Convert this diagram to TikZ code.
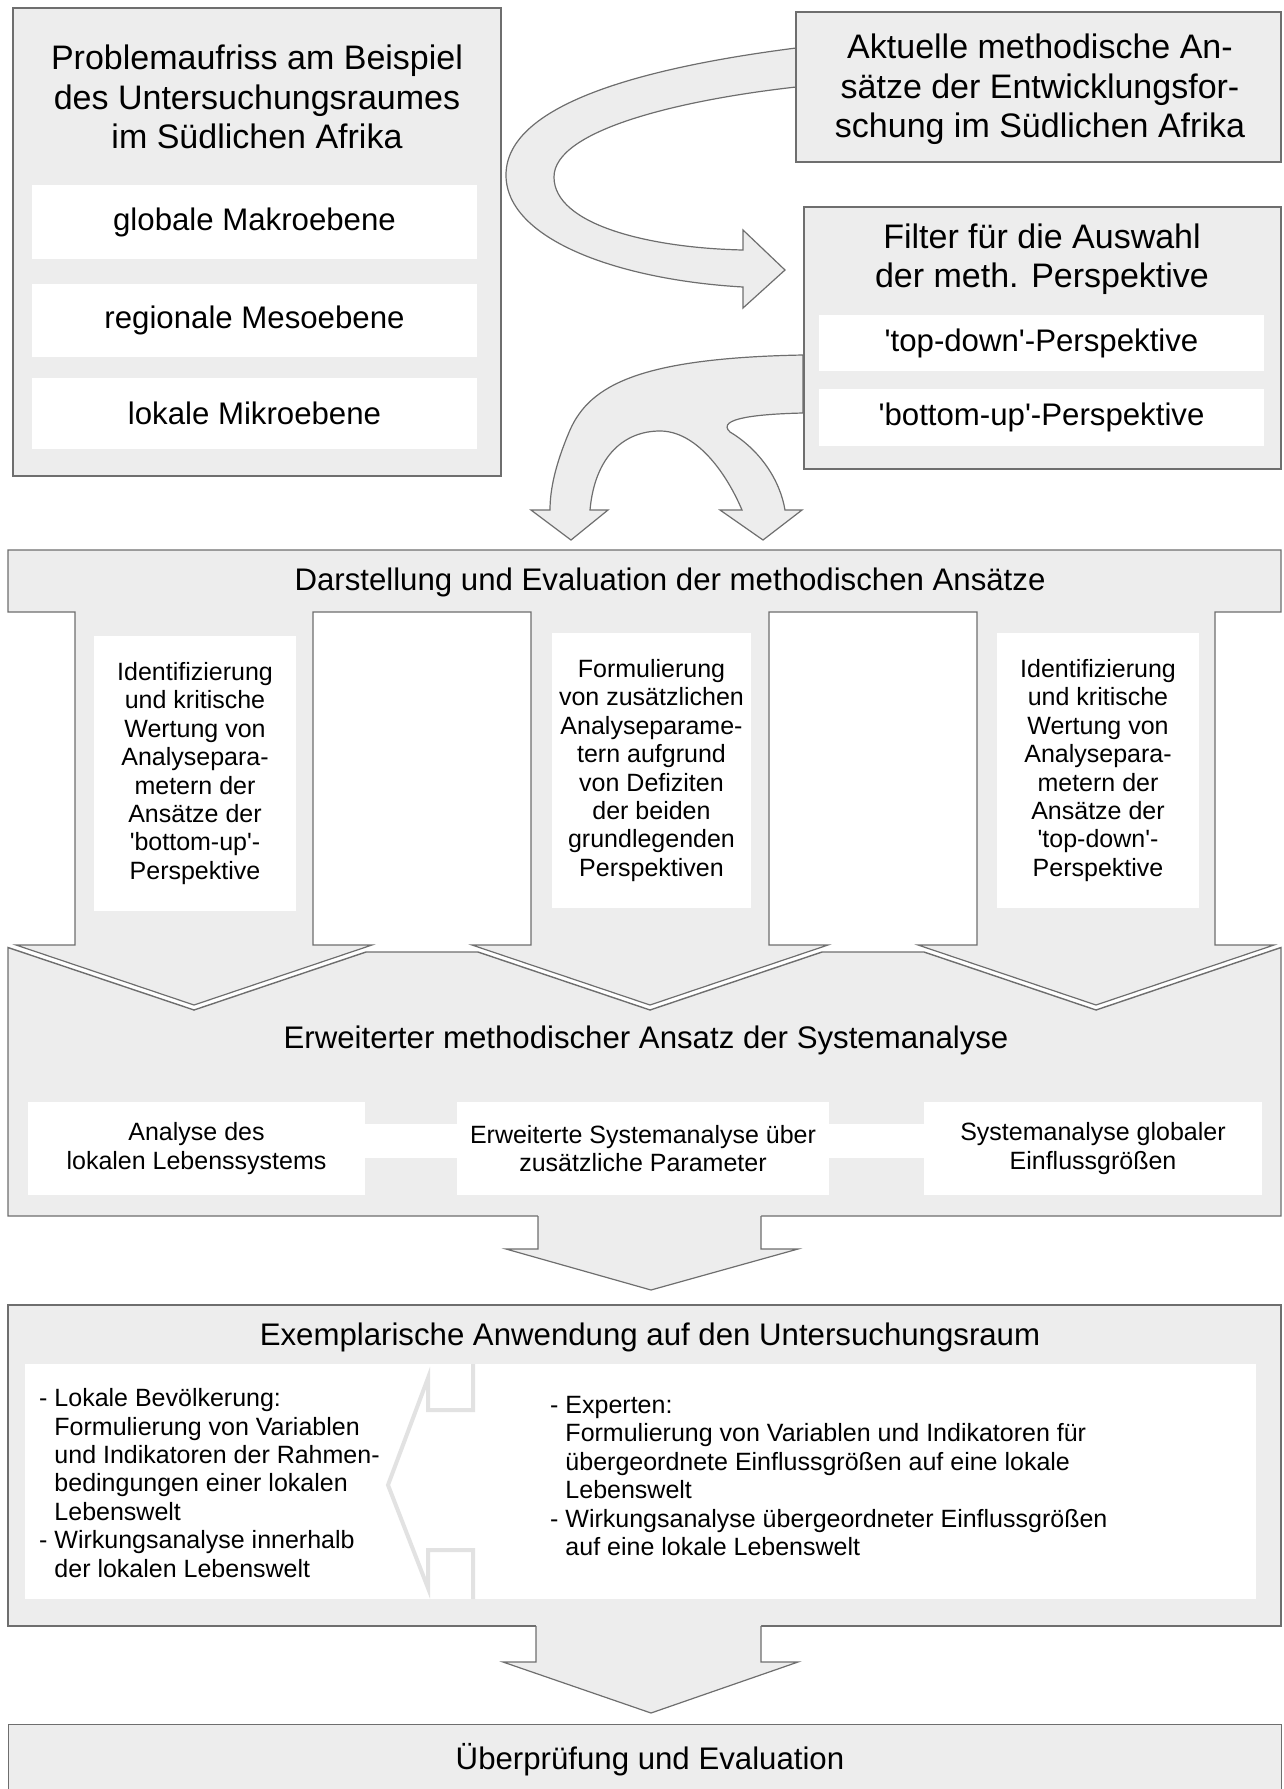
\documentclass[tikz,border=0pt]{standalone}
\usepackage{fontspec}
\setmainfont{Liberation Sans}
\usetikzlibrary{positioning}
\definecolor{grau}{RGB}{237,237,237}
\definecolor{linie}{RGB}{110,110,110}
\definecolor{hell}{RGB}{226,226,226}

\begin{document}
\begin{tikzpicture}[x=1pt, y=-1pt,
  kasten/.style={draw=linie, fill=grau, line width=1.4pt},
  feld/.style={fill=white, inner sep=0pt},
  gross/.style={font=\fontsize{34}{39.5}\selectfont, align=center, inner sep=0pt},
  mittel/.style={font=\fontsize{31.2}{36}\selectfont, align=center, inner sep=0pt},
  klein/.style={font=\fontsize{25}{28.4}\selectfont, align=center, inner sep=0pt},
  pfeil/.style={draw=linie, fill=grau, line width=1.2pt, line join=miter},
  band/.style={white, line width=34pt}]

  \useasboundingbox (0,0) rectangle (1283,1789);
  \clip (0,0) rectangle (1283,1789);

  % curved arrows first, the boxes cover their ends
  \draw[pfeil] (796,48) .. controls (640,68) and (506,105) .. (506,175)
    .. controls (506,240) and (620,280) .. (743,287)
    -- (743,308) -- (785,270) -- (743,230) -- (743,250)
    .. controls (650,248) and (554,225) .. (554,177)
    .. controls (554,130) and (680,100) .. (796,87) -- cycle;

  \draw[pfeil] (803,355) .. controls (640,358) and (590,385) .. (570,430)
    .. controls (555,465) and (550,490) .. (550,510)
    -- (531,510) -- (571,540) -- (608,510) -- (590,510)
    .. controls (595,455) and (625,431) .. (660,431)
    .. controls (695,431) and (725,470) .. (742,510)
    -- (720,510) -- (763,540) -- (802,510) -- (785,510)
    .. controls (780,480) and (760,450) .. (730,432)
    .. controls (715,418) and (760,414) .. (803,413) -- cycle;

  % Problemaufriss
  \node[kasten, minimum width=488pt, minimum height=468pt] (problem) at (257,242) {};
  \node[gross] (problemtitel) at (257,97) {Problemaufriss am Beispiel\\des Untersuchungsraumes\\im Südlichen Afrika};
  \node[feld, mittel, minimum width=445pt, minimum height=74pt] (makro) at (254.5,222) {globale Makroebene};
  \node[feld, mittel, minimum width=445pt, minimum height=73pt] (meso) at (254.5,320.5) {regionale Mesoebene};
  \node[feld, mittel, minimum width=445pt, minimum height=71pt] (mikro) at (254.5,413.5) {lokale Mikroebene};

  % Ansaetze und Filter
  \node[kasten, minimum width=485pt, minimum height=150pt] (ansaetze) at (1038.5,87) {};
  \node[gross] (ansaetzetitel) at (1040,89.5) {Aktuelle methodische An-\\sätze der Entwicklungsfor-\\schung im Südlichen Afrika};
  \node[kasten, minimum width=477pt, minimum height=262pt] (filter) at (1042.5,338) {};
  \node[gross] (filtertitel) at (1042,259) {Filter für die Auswahl\\der meth. Perspektive};
  \node[feld, mittel, minimum width=445pt, minimum height=56pt] (topdown) at (1041.5,343) {\textquotesingle top-down\textquotesingle-Perspektive};
  \node[feld, mittel, minimum width=445pt, minimum height=57pt] (bottomup) at (1041.5,417.5) {\textquotesingle bottom-up\textquotesingle-Perspektive};

  % Erweiterter Ansatz
  \draw[kasten] (8,947.5) -- (194,1010) -- (366,952) -- (478,952) -- (650,1010) -- (822,952)
    -- (924,952) -- (1096,1010) -- (1281,947.5) -- (1281,1216) -- (8,1216) -- cycle;
  \node[mittel] (systemtitel) at (646,1040) {Erweiterter methodischer Ansatz der Systemanalyse};
  \node[feld, klein, minimum width=337pt, minimum height=93pt] (lokal) at (196.5,1148.5) {Analyse des\\lokalen Lebenssystems};
  \node[feld, klein, minimum width=372pt, minimum height=93pt] (erweitert) at (643,1148.5) {Erweiterte Systemanalyse über\\zusätzliche Parameter};
  \node[feld, klein, minimum width=338pt, minimum height=93pt] (global) at (1093,1148.5) {Systemanalyse globaler\\Einflussgrößen};
  \draw[band] ([yshift=7.5pt]lokal.east) -- ([yshift=7.5pt]erweitert.west);
  \draw[band] ([yshift=7.5pt]erweitert.east) -- ([yshift=7.5pt]global.west);

  % Darstellung mit drei Pfeilen
  \draw[pfeil] (8,550) -- (1281,550) -- (1281,612) -- (1215,612) -- (1215,945) -- (1274,945)
    -- (1096,1005) -- (918,945) -- (977,945) -- (977,612) -- (769,612) -- (769,945) -- (828,945)
    -- (650,1005) -- (472,945) -- (531,945) -- (531,612) -- (313,612) -- (313,945) -- (372,945)
    -- (194,1005) -- (16,945) -- (75,945) -- (75,612) -- (8,612) -- cycle;
  \node[mittel] (darstellung) at (670,582) {Darstellung und Evaluation der methodischen Ansätze};
  \node[feld, klein, minimum width=202pt, minimum height=275pt] (wertungbu) at (195,773.5)
    {Identifizierung\\und kritische\\Wertung von\\Analysepara-\\metern der\\Ansätze der\\\textquotesingle bottom-up\textquotesingle-\\Perspektive};
  \node[feld, klein, minimum width=199pt, minimum height=275pt] (zusatz) at (651.5,770.5)
    {Formulierung\\von zusätzlichen\\Analyseparame-\\tern aufgrund\\von Defiziten\\der beiden\\grundlegenden\\Perspektiven};
  \node[feld, klein, minimum width=202pt, minimum height=275pt] (wertungtd) at (1098,770.5)
    {Identifizierung\\und kritische\\Wertung von\\Analysepara-\\metern der\\Ansätze der\\\textquotesingle top-down\textquotesingle-\\Perspektive};

  % Anwendung
  \node[kasten, minimum width=1273pt, minimum height=321pt] (anwendung) at (644.5,1465.5) {};
  \node[mittel] (anwendungtitel) at (650,1337) {Exemplarische Anwendung auf den Untersuchungsraum};
  \node[feld, minimum width=1231pt, minimum height=235pt] (anwendungfeld) at (640.5,1481.5) {};
  \draw[hell, line width=4pt] (473,1364) -- (473,1410) -- (428,1410) -- (428,1378) -- (388,1485)
    -- (428,1588) -- (428,1550) -- (473,1550) -- (473,1599);
  \node[klein, align=left, anchor=west] (bevoelkerung) at (39,1483)
    {- Lokale Bevölkerung:\\\hphantom{- }Formulierung von Variablen\\\hphantom{- }und Indikatoren der Rahmen-\\\hphantom{- }bedingungen einer lokalen\\\hphantom{- }Lebenswelt\\- Wirkungsanalyse innerhalb\\\hphantom{- }der lokalen Lebenswelt};
  \node[klein, align=left, anchor=west] (experten) at (550,1476)
    {- Experten:\\\hphantom{- }Formulierung von Variablen und Indikatoren für\\\hphantom{- }übergeordnete Einflussgrößen auf eine lokale\\\hphantom{- }Lebenswelt\\- Wirkungsanalyse übergeordneter Einflussgrößen\\\hphantom{- }auf eine lokale Lebenswelt};

  % Pfeile nach unten
  \fill[grau] (538,1213) -- (538,1249) -- (506,1249) -- (651,1290) -- (798,1249) -- (761,1249) -- (761,1213) -- cycle;
  \draw[linie, line width=1.2pt] (538,1216) -- (538,1249) -- (506,1249) -- (651,1290) -- (798,1249) -- (761,1249) -- (761,1216);
  \fill[grau] (536,1623) -- (536,1662) -- (503,1662) -- (651,1713) -- (798,1662) -- (761,1662) -- (761,1623) -- cycle;
  \draw[linie, line width=1.2pt] (536,1626) -- (536,1662) -- (503,1662) -- (651,1713) -- (798,1662) -- (761,1662) -- (761,1626);

  % Pruefung
  \node[kasten, minimum width=1273pt, minimum height=100pt, anchor=north west] (pruefung) at (8,1724) {};
  \node[mittel] (pruefungtitel) at (650,1760) {Überprüfung und Evaluation};
\end{tikzpicture}
\end{document}
